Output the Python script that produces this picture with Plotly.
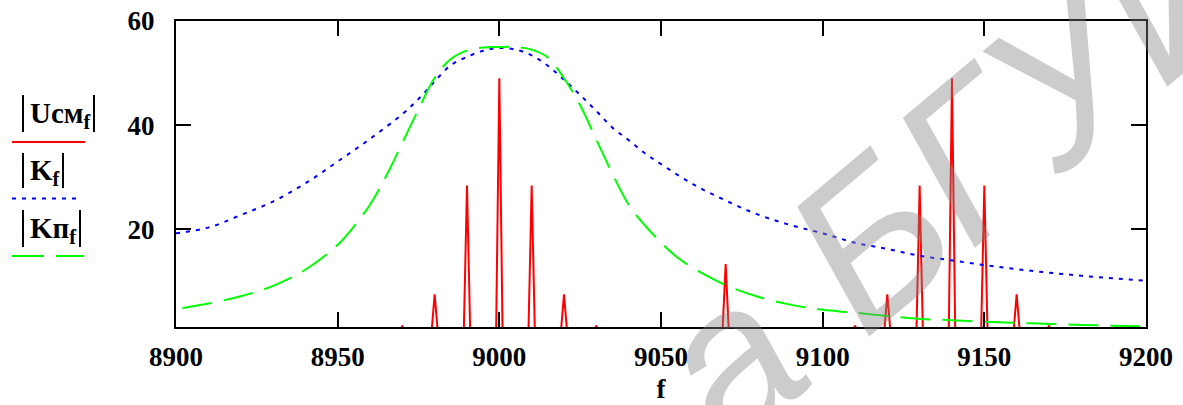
import plotly.graph_objects as go

# ---- data ----
f_k = [8900, 8910, 8920, 8930, 8940, 8950, 8960, 8970, 8975, 8980, 8985, 8990, 8995,
       9000, 9005, 9010, 9015, 9020, 9025, 9030, 9035, 9040, 9045, 9050, 9060, 9070,
       9080, 9090, 9100, 9110, 9120, 9130, 9140, 9150, 9160, 9170, 9180, 9190, 9200]
k_abs = [19.2, 20.3, 22.7, 25.3, 28.8, 33.0, 37.35, 42.1, 45.0, 48.4, 51.5, 53.1, 54.3,
         54.8, 54.5, 53.4, 51.4, 48.7, 45.8, 42.7, 39.5, 37.1, 34.6, 32.5, 28.6, 25.5,
         22.8, 20.8, 19.2, 17.4, 16.2, 14.9, 14.0, 13.1, 12.3, 11.65, 11.05, 10.55, 10.1]

f_kp = [8902, 8910, 8920, 8930, 8940, 8950, 8955, 8960, 8965, 8970, 8975, 8980, 8985,
        8990, 8995, 9000, 9005, 9010, 9015, 9020, 9025, 9030, 9035, 9040, 9045, 9050,
        9055, 9060, 9065, 9070, 9080, 9090, 9100, 9110, 9120, 9130, 9140, 9150, 9160,
        9170, 9180, 9190, 9200]
kp_abs = [4.8, 5.7, 7.1, 9.1, 12.2, 17.0, 20.5, 24.7, 30.2, 36.6, 43.0, 49.1, 52.7,
          54.3, 54.9, 55.0, 55.0, 54.5, 53.0, 49.0, 43.8, 37.2, 30.6, 24.7, 20.75, 17.4,
          14.6, 12.5, 10.8, 9.25, 7.0, 5.5, 4.5, 3.95, 3.3, 2.75, 2.5, 2.2, 2.0,
          1.8, 1.6, 1.45, 1.35]

spike_f = [8970, 8980, 8990, 9000, 9010, 9020, 9030, 9070,
           9110, 9120, 9130, 9140, 9150, 9160, 9170]
spike_a = [1.45, 7.5, 28.4, 49.0, 28.4, 7.5, 1.45, 13.3,
           1.45, 7.5, 28.4, 49.0, 28.4, 7.5, 1.45]

x_ticks = [8900, 8950, 9000, 9050, 9100, 9150, 9200]
y_ticks = [20, 40, 60]

# spectrum sampled at 1 Hz: zero everywhere except the lines
u_f = [8900]
u_v = [0.0]
for fs, a in zip(spike_f, spike_a):
    u_f += [fs - 1, fs, fs + 1]
    u_v += [0.0, a, 0.0]
u_f.append(9200)
u_v.append(0.0)

fig = go.Figure()
fig.add_trace(go.Scatter(x=u_f, y=u_v, mode="lines",
                         line=dict(color="#ff0000", width=2), showlegend=False))
fig.add_trace(go.Scatter(x=f_k, y=k_abs, mode="lines",
                         line=dict(color="#0000ff", width=2, dash="4px,6px", shape="spline"),
                         showlegend=False))
fig.add_trace(go.Scatter(x=f_kp, y=kp_abs, mode="lines",
                         line=dict(color="#00ff00", width=2, dash="30px,12px", shape="spline"),
                         showlegend=False))

L, R, T, B = 176, 37, 21, 78
W, H = 1183, 405
pw, ph = W - L - R, H - T - B


def px(x):
    return (x - L) / pw


def py(y):
    return (H - B - y) / ph


SERIF = "Liberation Serif"
tick_font = dict(family=SERIF, size=27, color="black")
axis_common = dict(showline=True, linecolor="black", linewidth=2, mirror="ticks",
                   ticks="inside", ticklen=15, tickwidth=2, tickcolor="black",
                   showgrid=False, zeroline=False, tickfont=tick_font)

fig.update_xaxes(range=[8900, 9200], tickvals=x_ticks,
                 ticktext=["<b>%d</b>" % v for v in x_ticks], ticklabelstandoff=5,
                 title=dict(text="<b>f</b>", font=tick_font, standoff=8), **axis_common)
fig.update_yaxes(range=[1.2, 60], tickvals=y_ticks,
                 ticktext=["<b>%d</b>" % v for v in y_ticks], ticklabelstandoff=14,
                 **axis_common)

shapes = []
# legend samples
shapes.append(dict(type="line", xref="paper", yref="paper", x0=px(12), x1=px(85),
                   y0=py(142), y1=py(142), line=dict(color="#ff0000", width=2)))
shapes.append(dict(type="line", xref="paper", yref="paper", x0=px(12), x1=px(82),
                   y0=py(198.5), y1=py(198.5), line=dict(color="#0000ff", width=2, dash="4px,6px")))
shapes.append(dict(type="line", xref="paper", yref="paper", x0=px(12), x1=px(84),
                   y0=py(256), y1=py(256), line=dict(color="#00ff00", width=2, dash="32px,12px")))
# absolute-value bars
for xl, xr, y0, y1 in [(23, 94, 95, 132), (23, 63, 153, 188), (23, 80, 210, 247)]:
    for xb in (xl, xr):
        shapes.append(dict(type="line", xref="paper", yref="paper", x0=px(xb), x1=px(xb),
                           y0=py(y0), y1=py(y1), line=dict(color="black", width=2)))

label_font = dict(family=SERIF, size=29, color="black")
annotations = []
for text, yc in [("<b>Uсм<sub>f</sub></b>", 115), ("<b>K<sub>f</sub></b>", 172),
                 ("<b>Kп<sub>f</sub></b>", 230)]:
    annotations.append(dict(text=text, xref="paper", yref="paper", x=px(28), y=py(yc),
                            xanchor="left", yanchor="middle", showarrow=False, font=label_font))

# watermark
annotations.append(dict(text="<i>а БГУИР</i>", xref="paper", yref="paper",
                        x=px(1010), y=py(122), xanchor="center", yanchor="middle",
                        textangle=-40, showarrow=False,
                        font=dict(family="Liberation Sans", size=212,
                                  color="rgba(128,128,128,0.4)")))

fig.update_layout(width=W, height=H, margin=dict(l=L, r=R, t=T, b=B, autoexpand=False),
                  paper_bgcolor="white", plot_bgcolor="white",
                  shapes=shapes, annotations=annotations, showlegend=False)

fig.write_html("out.html")
